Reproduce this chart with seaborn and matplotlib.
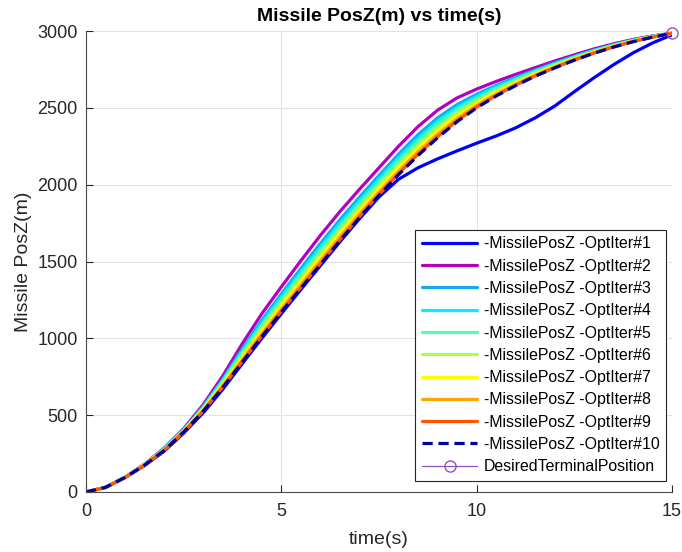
import matplotlib
matplotlib.use("Agg")
import matplotlib.pyplot as plt
import numpy as np
import pandas as pd
import seaborn as sns

# Missile altitude (PosZ, metres) for each optimisation iteration, sampled every 0.5 s
time_s = [0, 0.5, 1, 1.5, 2, 2.5, 3, 3.5, 4, 4.5, 5, 5.5, 6, 6.5, 7, 7.5,
          8, 8.5, 9, 9.5, 10, 10.5, 11, 11.5, 12, 12.5, 13, 13.5, 14, 14.5, 15]

iter1 = [0, 29, 93, 172, 265, 383, 515, 668, 835, 1000, 1160, 1318, 1473, 1628, 1778, 1920,
         2035, 2110, 2168, 2220, 2270, 2317, 2370, 2435, 2512, 2605, 2695, 2780, 2857, 2922, 2975]
iter2 = [0, 31, 97, 182, 285, 412, 568, 755, 965, 1160, 1335, 1505, 1670, 1825, 1970, 2110,
         2250, 2378, 2485, 2565, 2622, 2672, 2718, 2762, 2805, 2845, 2883, 2916, 2945, 2968, 2985]
iter3 = [0, 31, 96, 180, 281, 406, 556, 734, 931, 1118, 1289, 1455, 1617, 1772, 1918, 2060,
         2198, 2326, 2435, 2522, 2588, 2646, 2698, 2746, 2792, 2835, 2875, 2910, 2941, 2966, 2985]
iter4 = [0, 31, 96, 179, 279, 403, 551, 725, 917, 1100, 1269, 1433, 1594, 1749, 1896, 2038,
         2176, 2303, 2414, 2504, 2574, 2635, 2689, 2740, 2787, 2831, 2872, 2908, 2939, 2965, 2985]
iter5 = [0, 30, 96, 178, 277, 401, 546, 717, 903, 1082, 1249, 1411, 1571, 1726, 1874, 2016,
         2154, 2280, 2392, 2486, 2559, 2623, 2680, 2733, 2782, 2827, 2868, 2905, 2937, 2964, 2985]
iter6 = [0, 30, 96, 178, 275, 398, 541, 708, 888, 1064, 1229, 1390, 1548, 1703, 1852, 1995,
         2132, 2258, 2371, 2467, 2544, 2611, 2671, 2726, 2776, 2823, 2865, 2903, 2935, 2963, 2985]
iter7 = [0, 30, 96, 177, 274, 395, 537, 699, 875, 1048, 1211, 1370, 1528, 1683, 1831, 1975,
         2111, 2237, 2350, 2449, 2530, 2601, 2663, 2720, 2771, 2819, 2862, 2900, 2934, 2962, 2985]
iter8 = [0, 30, 95, 176, 272, 393, 531, 690, 860, 1030, 1191, 1348, 1505, 1660, 1809, 1953,
         2089, 2215, 2329, 2431, 2516, 2590, 2654, 2713, 2766, 2815, 2859, 2898, 2932, 2961, 2985]
iter9 = [0, 30, 95, 175, 271, 391, 527, 683, 850, 1016, 1177, 1332, 1488, 1643, 1792, 1937,
         2072, 2198, 2312, 2416, 2505, 2581, 2648, 2708, 2762, 2811, 2856, 2896, 2931, 2960, 2985]
iter10 = [0, 30, 95, 175, 270, 390, 525, 680, 845, 1010, 1170, 1325, 1480, 1635, 1785, 1930,
          2065, 2190, 2305, 2410, 2500, 2577, 2645, 2706, 2760, 2810, 2855, 2895, 2930, 2960, 2985]

terminal_time = [15]
terminal_posz = [2985]

series_labels = [
    "-MissilePosZ -OptIter#1", "-MissilePosZ -OptIter#2", "-MissilePosZ -OptIter#3",
    "-MissilePosZ -OptIter#4", "-MissilePosZ -OptIter#5", "-MissilePosZ -OptIter#6",
    "-MissilePosZ -OptIter#7", "-MissilePosZ -OptIter#8", "-MissilePosZ -OptIter#9",
    "-MissilePosZ -OptIter#10",
]
terminal_label = "DesiredTerminalPosition"

series_values = [iter1, iter2, iter3, iter4, iter5, iter6, iter7, iter8, iter9, iter10]
series_colors = ["#0000f5", "#b400be", "#14aaf0", "#00f0ff", "#50ffa8",
                 "#a6ff50", "#ffff00", "#ffa500", "#ff5500", "#00009b"]

df = pd.DataFrame({
    "time": np.tile(time_s, len(series_values)),
    "posz": np.concatenate(series_values),
    "series": np.repeat(series_labels, len(time_s)),
})

sns.set_style("white")
plt.rcParams["font.family"] = ["Liberation Sans", "DejaVu Sans"]
text_color = "#262626"

fig = plt.figure(figsize=(6.82, 5.52), dpi=100)
ax = fig.add_axes([86 / 682, 1 - 492 / 552, (672 - 86) / 682, (492 - 31) / 552])

palette = dict(zip(series_labels, series_colors))
dashes = {lab: "" for lab in series_labels}
dashes[series_labels[-1]] = (3.2, 1.8)

sns.lineplot(data=df, x="time", y="posz", hue="series", style="series",
             hue_order=series_labels, style_order=series_labels,
             palette=palette, dashes=dashes, linewidth=2.3, sort=False,
             estimator=None, legend=False, ax=ax)

sns.lineplot(x=terminal_time, y=terminal_posz, color="#9a4fb8", marker="o",
             markersize=8, markerfacecolor="none", markeredgecolor="#9a4fb8",
             markeredgewidth=1.0, linewidth=0.9, legend=False, ax=ax)
ax.lines[-1].set_clip_on(False)

ax.set_xlim(0, 15)
ax.set_ylim(0, 3000)
ax.set_xticks([0, 5, 10, 15])
ax.set_yticks([0, 500, 1000, 1500, 2000, 2500, 3000])
ax.grid(True, color="#e3e3e3", linewidth=0.8)
ax.set_axisbelow(True)

for side in ["top", "right"]:
    ax.spines[side].set_visible(False)
for side in ["left", "bottom"]:
    ax.spines[side].set_color("#4a4a4a")
    ax.spines[side].set_linewidth(0.8)

ax.tick_params(direction="in", length=5, width=0.8, color="#262626",
               labelcolor=text_color, labelsize=13, pad=6,
               bottom=True, left=True, top=False, right=False)
ax.tick_params(axis="x", pad=8)

ax.set_xlabel("time(s)", fontsize=14, color=text_color, labelpad=8)
ax.set_ylabel("Missile PosZ(m)", fontsize=14, color=text_color, labelpad=4)
ax.set_title("Missile PosZ(m) vs time(s)", fontsize=14, fontweight="bold",
             color="black", pad=7)

handles = ax.lines[:len(series_labels)] + [ax.lines[-1]]
leg = ax.legend(handles, series_labels + [terminal_label], loc="lower right",
                bbox_to_anchor=(0.9898, 0.024), borderaxespad=0,
                fontsize=11.4, handlelength=3.5, handletextpad=0.4,
                labelspacing=0.46, borderpad=0.42, fancybox=False,
                framealpha=1, edgecolor="#262626")
leg.get_frame().set_linewidth(0.8)
for t in leg.get_texts():
    t.set_color("black")

fig.savefig("out.png", dpi=100)
